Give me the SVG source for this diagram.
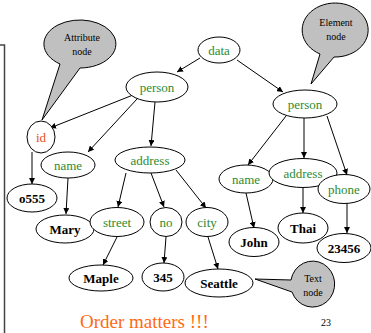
<svg xmlns="http://www.w3.org/2000/svg" width="371" height="333" viewBox="0 0 371 333">
<defs>
<marker id="ah" viewBox="0 0 10 10" refX="10" refY="5" markerWidth="6" markerHeight="6" orient="auto" markerUnits="userSpaceOnUse"><path d="M0,0 L10,5 L0,10 z" fill="#000"/></marker>
<style>
.n ellipse{fill:#fff;stroke:#000;stroke-width:1}
.e text{fill:#2e8b2e;font-family:"Liberation Serif",serif;font-size:13px;text-anchor:middle}
.t text{fill:#000;font-family:"Liberation Serif",serif;font-size:13px;font-weight:bold;text-anchor:middle}
.c path{fill:#c0c0c0;stroke:#000;stroke-width:1}
.c text{fill:#000;font-family:"Liberation Serif",serif;font-size:10px;text-anchor:middle}
#edges line{stroke:#000;stroke-width:1;marker-end:url(#ah)}
</style>
</defs>
<rect width="371" height="333" fill="#fff"/>
<path d="M0,45 H4.5 V333" fill="none" stroke="#444" stroke-width="1.5"/>
<g id="edges">
<line x1="200" y1="58" x2="177" y2="72"/>
<line x1="237" y1="60" x2="283" y2="92"/>
<line x1="133" y1="95" x2="50" y2="128"/>
<line x1="137" y1="99" x2="88" y2="152"/>
<line x1="155" y1="102" x2="151" y2="146"/>
<line x1="32" y1="152" x2="32" y2="184"/>
<line x1="68" y1="178" x2="66" y2="214"/>
<line x1="126" y1="173" x2="118" y2="207"/>
<line x1="151" y1="173" x2="164" y2="207"/>
<line x1="176" y1="170" x2="206" y2="208"/>
<line x1="117" y1="237" x2="103" y2="265"/>
<line x1="166" y1="237" x2="164" y2="263"/>
<line x1="208" y1="237" x2="218" y2="269"/>
<line x1="286" y1="116" x2="248" y2="165"/>
<line x1="304" y1="118" x2="304" y2="158"/>
<line x1="327" y1="116" x2="347" y2="175"/>
<line x1="246" y1="193" x2="254" y2="228"/>
<line x1="303" y1="188" x2="303" y2="213"/>
<line x1="347" y1="203" x2="347" y2="233"/>
</g>
<g id="data" class="n e"><ellipse cx="219" cy="50" rx="21" ry="13"/><text x="219" y="55">data</text></g>
<g id="person1" class="n e"><ellipse cx="157" cy="87" rx="31" ry="15"/><text x="157" y="92">person</text></g>
<g id="person2" class="n e"><ellipse cx="305" cy="104" rx="32" ry="14"/><text x="305" y="109">person</text></g>
<g id="id" class="n"><ellipse cx="41" cy="137" rx="14" ry="16"/><text x="41" y="142" fill="#e8501c" font-family="Liberation Serif,serif" font-size="13" text-anchor="middle">id</text></g>
<g id="name1" class="n e"><ellipse cx="68" cy="165" rx="27" ry="13"/><text x="68" y="170">name</text></g>
<g id="address1" class="n e"><ellipse cx="150" cy="160" rx="35" ry="13"/><text x="150" y="165">address</text></g>
<g id="o555" class="n t"><ellipse cx="32" cy="198" rx="25" ry="14"/><text x="32" y="203">o555</text></g>
<g id="mary" class="n t"><ellipse cx="65" cy="229" rx="29" ry="14"/><text x="65" y="234">Mary</text></g>
<g id="street" class="n e"><ellipse cx="117" cy="222" rx="27" ry="14.5"/><text x="117" y="227">street</text></g>
<g id="no" class="n e"><ellipse cx="166" cy="222" rx="16" ry="14.5"/><text x="166" y="227">no</text></g>
<g id="city" class="n e"><ellipse cx="207" cy="222" rx="21" ry="14.5"/><text x="207" y="227">city</text></g>
<g id="maple" class="n t"><ellipse cx="101" cy="278" rx="32" ry="13"/><text x="101" y="283">Maple</text></g>
<g id="n345" class="n t"><ellipse cx="163" cy="277" rx="21" ry="14"/><text x="163" y="282">345</text></g>
<g id="seattle" class="n t"><ellipse cx="219" cy="283" rx="34" ry="14"/><text x="219" y="288">Seattle</text></g>
<g id="name2" class="n e"><ellipse cx="246" cy="179" rx="27" ry="14"/><text x="246" y="184">name</text></g>
<g id="address2" class="n e"><ellipse cx="303" cy="173" rx="34" ry="14.5"/><text x="303" y="178">address</text></g>
<g id="phone" class="n e"><ellipse cx="344" cy="189" rx="26" ry="14.5"/><text x="344" y="194">phone</text></g>
<g id="john" class="n t"><ellipse cx="254" cy="242" rx="25" ry="14.5"/><text x="254" y="247">John</text></g>
<g id="thai" class="n t"><ellipse cx="303" cy="228" rx="25" ry="15"/><text x="303" y="233">Thai</text></g>
<g id="n23456" class="n t"><ellipse cx="344" cy="248" rx="27" ry="14.5"/><text x="344" y="253">23456</text></g>
<g id="attr-callout" class="c"><path d="M60,64 A36,24 0 1 1 80,68 L42,120 Z"/><text x="82" y="41">Attribute</text><text x="82" y="55">node</text></g>
<g id="elem-callout" class="c"><path d="M320,54 A33,27 0 1 1 334,57 L311,84 Z"/><text x="336" y="26">Element</text><text x="336" y="40">node</text></g>
<g id="text-callout" class="c"><path d="M291,280 A22,23 0 1 1 292,292 L255,279 Z"/><text x="313" y="282">Text</text><text x="313" y="296">node</text></g>
<text x="80" y="328" fill="#ff6a13" font-family="Liberation Serif,serif" font-size="19">Order matters !!!</text>
<text x="326" y="326" fill="#000" font-family="Liberation Serif,serif" font-size="10" text-anchor="middle">23</text>
</svg>
